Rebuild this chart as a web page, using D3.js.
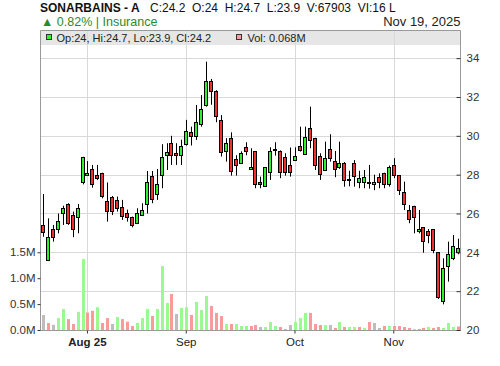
<!DOCTYPE html>
<html>
<head>
<meta charset="utf-8">
<script src="https://cdn.jsdelivr.net/npm/d3@7"></script>
<style>
  body { margin: 0; background: #fff; }
  svg { display: block; font-family: "Liberation Sans", Arial, sans-serif; }
  .pre { white-space: pre; }
</style>
</head>
<body>
<svg class="chart"></svg>
<script>
// daily candles, Jul 2025 -> Nov 19, 2025
var opens  = [25.41,23.6,25.19,25.19,26.0,26.47,25.92,25.81,27.59,28.0,
              28.28,27.99,28.07,26.66,26.87,26.7,26.35,26.0,25.81,25.5,
              25.92,26.47,27.95,26.99,27.95,29.02,29.62,29.1,29.02,29.62,
              30.18,29.96,30.6,31.59,32.83,32.3,30.82,29.19,29.88,28.79,
              28.59,29.41,28.28,29.22,27.6,27.38,28.15,29.3,29.22,28.9,
              28.5,28.75,29.5,29.1,30.39,29.88,28.98,28.26,29.32,28.7,
              28.38,28.59,27.8,28.59,27.6,27.6,27.6,27.5,27.87,28.07,
              27.5,28.48,27.97,27.1,26.17,26.37,25.08,25.29,25.08,25.19,
              24.0,21.46,23.28,23.69,24.0];
var highs  = [27.0,25.75,25.41,26.0,26.4,26.53,26.1,26.49,28.92,28.7,
              28.5,28.5,28.1,27.6,26.9,26.87,26.7,26.2,25.84,26.27,
              26.53,28.19,28.19,28.29,29.57,29.62,30.0,29.62,29.8,30.82,
              30.47,31.59,32.1,33.82,32.93,32.35,31.07,29.88,30.18,29.0,
              29.2,29.67,29.36,29.22,27.9,28.38,29.41,29.67,29.25,29.1,
              29.4,29.41,30.47,30.47,31.5,29.9,29.1,29.7,30.08,29.22,
              29.7,28.65,28.2,28.75,28.2,28.24,28.5,28.0,28.07,28.1,
              28.47,28.85,27.97,27.64,26.44,26.4,26.18,25.3,25.2,25.2,
              24.0,23.69,24.55,24.89,24.7];
var lows   = [24.8,23.55,24.55,24.98,25.41,25.41,24.78,24.98,27.5,27.95,
              27.33,27.73,26.78,25.58,25.92,26.1,25.67,25.58,25.29,25.46,
              25.9,26.0,26.53,26.7,27.3,28.24,28.5,28.5,28.5,29.5,
              29.5,29.79,30.47,31.5,31.6,30.7,28.93,28.67,27.95,27.95,
              28.55,29.0,28.28,27.3,27.3,27.38,27.73,28.98,27.82,27.95,
              27.9,28.7,29.19,29.05,29.36,28.24,27.73,28.2,28.67,27.87,
              28.3,27.38,27.4,27.38,27.3,27.3,27.28,27.2,27.3,27.3,
              27.38,27.82,26.95,26.18,25.5,24.98,24.98,23.98,24.47,23.95,
              21.6,21.32,22.49,23.6,23.9];
var closes = [25.06,24.78,24.78,25.62,26.27,25.5,25.19,26.27,28.9,28.1,
              27.52,27.82,26.9,26.15,26.15,26.27,25.89,25.81,25.41,26.0,
              26.18,27.6,26.78,27.5,28.9,29.19,29.02,29.02,29.5,30.27,
              29.96,30.7,31.37,32.83,32.3,31.0,29.19,29.62,28.19,28.5,
              29.1,29.19,28.38,27.52,27.52,28.38,29.22,29.3,28.15,28.15,
              28.15,28.98,29.31,29.96,29.79,28.5,28.07,28.88,28.88,28.29,
              28.59,27.72,27.8,27.9,27.82,27.87,27.6,27.6,27.6,27.5,
              28.38,27.97,27.18,26.47,25.7,25.8,25.19,24.55,24.88,24.1,
              21.68,23.18,23.91,24.32,24.2];
// volume in millions
var volumes = [0.29,0.135,0.10,0.23,0.405,0.21,0.116,0.35,1.37,0.335,
               0.37,0.44,0.135,0.23,0.116,0.25,0.21,0.16,0.077,0.135,
               0.23,0.405,0.27,0.405,1.235,0.52,0.695,0.31,0.425,0.44,
               0.29,0.54,0.386,0.656,0.463,0.33,0.27,0.116,0.116,0.116,
               0.077,0.077,0.077,0.097,0.058,0.058,0.155,0.077,0.058,0.02,
               0.097,0.155,0.23,0.33,0.33,0.116,0.097,0.097,0.097,0.04,
               0.155,0.058,0.058,0.058,0.058,0.04,0.155,0.135,0.04,0.077,
               0.077,0.077,0.077,0.058,0.04,0.02,0.02,0.04,0.058,0.04,
               0.058,0.04,0.135,0.058,0.068];

var monthIndex = [9, 29, 51, 71];
var monthLabels = ["Aug 25", "Sep", "Oct", "Nov"];
var priceTicks = [20, 22, 24, 26, 28, 30, 32, 34];
var volumeTicks = [0, 0.5, 1.0, 1.5];

var width = 500, height = 366;
var plot = { left: 40.5, right: 460.5, top: 30.5, bottom: 330.5 };

var svg = d3.select(".chart").attr("width", width).attr("height", height);

var x = d3.scaleBand()
    .domain(d3.range(closes.length))
    .range([plot.left, plot.right]);
// snap each day to a pixel so the 1px strokes stay crisp
var cx = function(i) { return Math.round(x(i) + x.bandwidth() / 2) + 0.5; };

var y = d3.scaleLinear().domain([20, 35.45]).range([330, 30]);
var yVol = d3.scaleLinear().domain([0, 1.5]).range([330, 252.3]);

// header
svg.append("text").attr("x", 40).attr("y", 11.5)
    .attr("font-size", 12).attr("font-weight", "bold").attr("fill", "#111")
    .text("SONARBAINS - A");
svg.append("text").attr("class", "pre").attr("x", 150).attr("y", 11.5)
    .attr("font-size", 12).attr("fill", "#111")
    .text("C:24.2  O:24  H:24.7  L:23.9  V:67903  VI:16 L");
svg.append("text").attr("x", 41).attr("y", 26)
    .attr("font-size", 12.5).attr("fill", "#2b8a2b")
    .text("\u25B2 0.82% | Insurance");
svg.append("text").attr("x", 460.5).attr("y", 26)
    .attr("font-size", 13).attr("fill", "#222").attr("text-anchor", "end")
    .text("Nov 19, 2025");

// legend band
svg.append("rect").attr("x", plot.left).attr("y", plot.top)
    .attr("width", plot.right - plot.left).attr("height", 14.5)
    .attr("fill", "#e6e6e6");

// grid
var grid = svg.append("g").attr("stroke", "#d9d9d9").attr("stroke-width", 1);
grid.selectAll("line.h").data(priceTicks.slice(1)).enter().append("line")
    .attr("x1", plot.left).attr("x2", plot.right)
    .attr("y1", function(d) { return Math.round(y(d)) + 0.5; })
    .attr("y2", function(d) { return Math.round(y(d)) + 0.5; });
grid.selectAll("line.v").data(monthIndex).enter().append("line")
    .attr("x1", cx).attr("x2", cx)
    .attr("y1", plot.top).attr("y2", plot.bottom);

// legend text
var legend = svg.append("g").attr("font-size", 11).attr("fill", "#222");
legend.append("rect").attr("x", 46.5).attr("y", 34.5).attr("width", 5).attr("height", 5)
    .attr("fill", "#33ee33").attr("stroke", "#333");
legend.append("text").attr("x", 56.5).attr("y", 42).text("Op:24, Hi:24.7, Lo:23.9, Cl:24.2");
legend.append("rect").attr("x", 236.5).attr("y", 34.5).attr("width", 5).attr("height", 5)
    .attr("fill", "#f4a0a0").attr("stroke", "#333");
legend.append("text").attr("x", 247.5).attr("y", 42).text("Vol: 0.068M");

// volume bars
svg.append("g").selectAll("rect").data(volumes).enter().append("rect")
    .attr("x", function(d, i) { return cx(i) - 1.5; })
    .attr("width", 3)
    .attr("y", function(d) { return yVol(d); })
    .attr("height", function(d) { return 330 - yVol(d); })
    .attr("fill", function(d, i) {
        if (i === 0 || closes[i] === closes[i - 1]) return "#bdbdbd";
        return closes[i] > closes[i - 1] ? "#99fb8f" : "#fb9a9a";
    });

// candles
var candles = svg.append("g").selectAll("g").data(closes).enter().append("g");
candles.append("line")
    .attr("x1", function(d, i) { return cx(i); })
    .attr("x2", function(d, i) { return cx(i); })
    .attr("y1", function(d, i) { return y(highs[i]); })
    .attr("y2", function(d, i) { return y(lows[i]); })
    .attr("stroke", "#000");
candles.append("rect")
    .attr("x", function(d, i) { return cx(i) - 2; })
    .attr("width", 3)
    .attr("y", function(d, i) { return Math.round(y(Math.max(opens[i], d))) + 0.5; })
    .attr("height", function(d, i) { return Math.max(1, Math.round(Math.abs(y(opens[i]) - y(d)))); })
    .attr("fill", function(d, i) { return d > opens[i] ? "#2ef02e" : (d < opens[i] ? "#f23030" : "#000"); })
    .attr("stroke", "#000").attr("stroke-width", 1);

// frame
var frame = svg.append("g").attr("stroke", "#999").attr("fill", "none");
frame.append("line").attr("x1", plot.left).attr("x2", plot.right).attr("y1", plot.top).attr("y2", plot.top);
frame.append("line").attr("x1", plot.left).attr("x2", plot.left).attr("y1", plot.top).attr("y2", plot.bottom);
frame.append("line").attr("x1", plot.right).attr("x2", plot.right).attr("y1", plot.top).attr("y2", plot.bottom);
frame.append("line").attr("x1", plot.left).attr("x2", plot.right).attr("y1", plot.bottom).attr("y2", plot.bottom);

// right price axis
var rightAxis = svg.append("g").attr("transform", "translate(" + plot.right + ",0)")
    .call(d3.axisRight(y).tickValues(priceTicks).tickSize(-4).tickPadding(6));
rightAxis.select(".domain").remove();
rightAxis.selectAll("line").attr("stroke", "#333");
rightAxis.selectAll("text").attr("font-size", 11.5).attr("fill", "#333")
    .attr("font-family", "Liberation Sans, Arial, sans-serif");

// left volume axis
var leftAxis = svg.append("g").attr("transform", "translate(" + plot.left + ",0)")
    .call(d3.axisLeft(yVol).tickValues(volumeTicks).tickSize(3).tickPadding(2)
        .tickFormat(function(d) { return d3.format(".1f")(d) + "M"; }));
leftAxis.select(".domain").remove();
leftAxis.selectAll("line").attr("stroke", "#333");
leftAxis.selectAll("text").attr("font-size", 11.5).attr("fill", "#333")
    .attr("font-family", "Liberation Sans, Arial, sans-serif");

// bottom month axis
var xAxis = svg.append("g").attr("transform", "translate(0," + plot.bottom + ")")
    .call(d3.axisBottom(x).tickValues(monthIndex).tickSize(3).tickPadding(4)
        .tickFormat(function(d, k) { return monthLabels[k]; }));
xAxis.select(".domain").remove();
xAxis.selectAll("line").attr("stroke", "#333");
xAxis.selectAll("text").attr("font-size", 11.5).attr("fill", "#222")
    .attr("font-family", "Liberation Sans, Arial, sans-serif")
    .attr("font-weight", function(d, k) { return k === 0 ? "bold" : "normal"; });
</script>
</body>
</html>
